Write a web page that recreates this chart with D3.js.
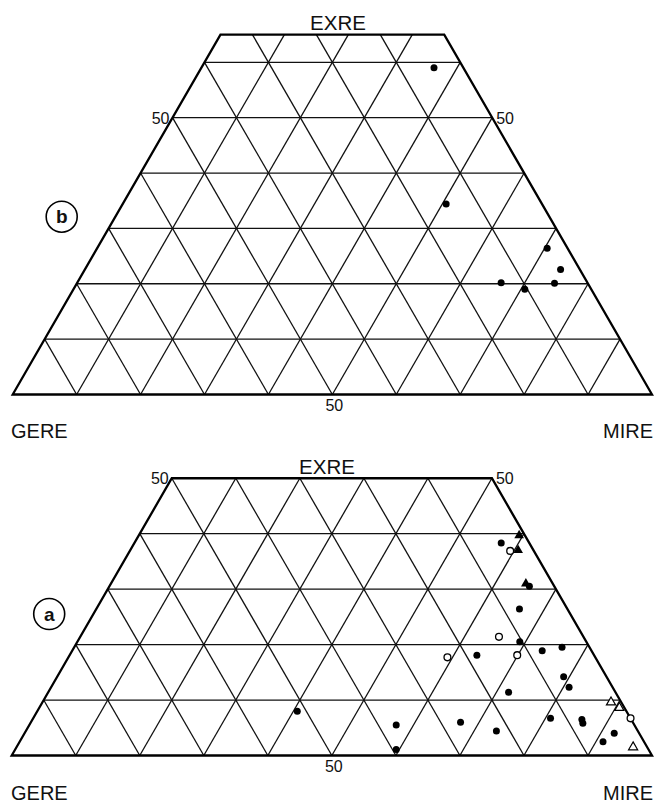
<!DOCTYPE html>
<html>
<head>
<meta charset="utf-8">
<script src="https://cdn.jsdelivr.net/npm/d3@7/dist/d3.min.js"></script>
<style>
  html, body { margin: 0; padding: 0; background: #fff; }
  svg { display: block; }
  text { font-family: "Liberation Sans", Arial, sans-serif; fill: #111; }
</style>
</head>
<body>
<script>
// ---- Data (values as [EXRE %, MIRE %]; GERE = 100 - EXRE - MIRE) ----
const axisNames = ["GERE", "EXRE", "MIRE"];
const gridSteps = [10, 20, 30, 40, 50, 60, 70, 80, 90];
const tickLabel = "50";

// Panel b (upper diagram)
const panelBSolidCircles = [
  [59.0, 36.4], [34.4, 50.6], [26.4, 70.4], [22.6, 74.4],
  [20.2, 66.3], [19.0, 70.6], [20.1, 74.7]
];

// Panel a (lower diagram)
const panelASolidCircles = [
  [38.3, 57.3], [30.5, 65.6], [26.4, 66.1], [20.5, 69.1], [18.1, 63.6],
  [18.9, 73.4], [19.5, 76.2], [14.2, 79.1], [12.3, 80.9], [11.4, 71.9],
  [4.0, 92.1], [2.5, 91.1], [6.7, 80.8], [6.5, 85.8], [5.8, 86.3],
  [6.0, 67.1], [4.4, 73.5], [5.5, 57.3], [1.1, 59.5], [8.0, 40.6]
];
const panelAOpenCircles = [
  [36.9, 59.4], [21.4, 65.4], [17.7, 59.2], [18.1, 69.9], [6.7, 93.3]
];
const panelASolidTriangles = [
  [39.7, 59.4], [37.0, 60.6], [31.0, 64.8]
];
const panelAOpenTriangles = [
  [9.6, 88.8], [8.6, 90.6], [1.5, 96.3]
];

// ---- Drawing ----
const W = 657, H = 805;
const svg = d3.select("body").append("svg").attr("width", W).attr("height", H);

function drawPanel(cfg) {
  const L = cfg.xR - cfg.xL;
  const Ht = L * Math.sqrt(3) / 2;
  // horizontal position along the base coordinate (MIRE + EXRE/2)
  const xs = d3.scaleLinear().domain([0, 100]).range([cfg.xL, cfg.xR]);
  const ys = d3.scaleLinear().domain([0, 100]).range([cfg.yB, cfg.yB - Ht]);
  const px = (e, m) => [xs(m + e / 2), ys(e)];
  const g = svg.append("g");
  const line = d3.line();
  const top = cfg.top;

  const gridG = g.append("g").attr("stroke", "#111").attr("stroke-width", 1.3).attr("fill", "none");
  // EXRE constant lines (horizontal)
  gridSteps.filter(v => v < top).forEach(e => {
    gridG.append("path").attr("d", line([px(e, 0), px(e, 100 - e)]));
  });
  // MIRE constant lines
  gridSteps.forEach(m => {
    const eEnd = Math.min(top, 100 - m);
    gridG.append("path").attr("d", line([px(0, m), px(eEnd, m)]));
  });
  // GERE constant lines
  gridSteps.forEach(gv => {
    const eEnd = Math.min(top, 100 - gv);
    gridG.append("path").attr("d", line([px(0, 100 - gv), px(eEnd, 100 - gv - eEnd)]));
  });
  // outline
  g.append("path")
    .attr("d", line([px(0, 0), px(0, 100), px(top, 100 - top), px(top, 0)]) + "Z")
    .attr("fill", "none").attr("stroke", "#000").attr("stroke-width", 2.3)
    .attr("stroke-linejoin", "miter");

  // labels
  const lab = cfg.labels;
  g.append("text").attr("x", lab.exre[0]).attr("y", lab.exre[1]).attr("text-anchor", "middle")
    .attr("font-size", 20.5).text(axisNames[1]);
  g.append("text").attr("x", lab.gere[0]).attr("y", lab.gere[1]).attr("text-anchor", "start")
    .attr("font-size", 20).text(axisNames[0]);
  g.append("text").attr("x", lab.mire[0]).attr("y", lab.mire[1]).attr("text-anchor", "end")
    .attr("font-size", 20).text(axisNames[2]);
  // "50" ticks
  const pL = px(50, 0), pR = px(50, 50), pB = px(0, 50);
  g.append("text").attr("x", pL[0] - 3).attr("y", pL[1] + 6).attr("text-anchor", "end")
    .attr("font-size", 16).text(tickLabel);
  g.append("text").attr("x", pR[0] + 4).attr("y", pR[1] + 6).attr("text-anchor", "start")
    .attr("font-size", 16).text(tickLabel);
  g.append("text").attr("x", pB[0] + 2).attr("y", pB[1] + 16).attr("text-anchor", "middle")
    .attr("font-size", 16).text(tickLabel);

  // circled panel letter
  g.append("circle").attr("cx", cfg.badge[0]).attr("cy", cfg.badge[1]).attr("r", 15.5)
    .attr("fill", "none").attr("stroke", "#000").attr("stroke-width", 1.6);
  g.append("text").attr("x", cfg.badge[0]).attr("y", cfg.badge[1] + 6.5).attr("text-anchor", "middle")
    .attr("font-size", 19).attr("font-weight", "bold").text(cfg.letter);

  // points
  const ptG = g.append("g");
  (cfg.solidCircles || []).forEach(d => {
    const p = px(d[0], d[1]);
    ptG.append("circle").attr("cx", p[0]).attr("cy", p[1]).attr("r", 3.5).attr("fill", "#000");
  });
  (cfg.openCircles || []).forEach(d => {
    const p = px(d[0], d[1]);
    ptG.append("circle").attr("cx", p[0]).attr("cy", p[1]).attr("r", 3.4)
      .attr("fill", "#fff").attr("stroke", "#000").attr("stroke-width", 1.3);
  });
  const tri = d3.symbol().type(d3.symbolTriangle);
  (cfg.solidTriangles || []).forEach(d => {
    const p = px(d[0], d[1]);
    ptG.append("path").attr("d", tri.size(40)()).attr("transform", `translate(${p[0]},${p[1]})`)
      .attr("fill", "#000");
  });
  (cfg.openTriangles || []).forEach(d => {
    const p = px(d[0], d[1]);
    ptG.append("path").attr("d", tri.size(36)()).attr("transform", `translate(${p[0]},${p[1]})`)
      .attr("fill", "#fff").attr("stroke", "#000").attr("stroke-width", 1.2);
  });
}

drawPanel({
  xL: 12.7, xR: 652, yB: 394.5, top: 65, letter: "b", badge: [61.7, 216.7],
  labels: { exre: [338, 30], gere: [11, 438], mire: [653, 438] },
  solidCircles: panelBSolidCircles
});

drawPanel({
  xL: 11.7, xR: 652, yB: 755.5, top: 50, letter: "a", badge: [49.2, 614],
  labels: { exre: [327, 474], gere: [11, 800], mire: [653, 800] },
  solidCircles: panelASolidCircles,
  openCircles: panelAOpenCircles,
  solidTriangles: panelASolidTriangles,
  openTriangles: panelAOpenTriangles
});
</script>
</body>
</html>
